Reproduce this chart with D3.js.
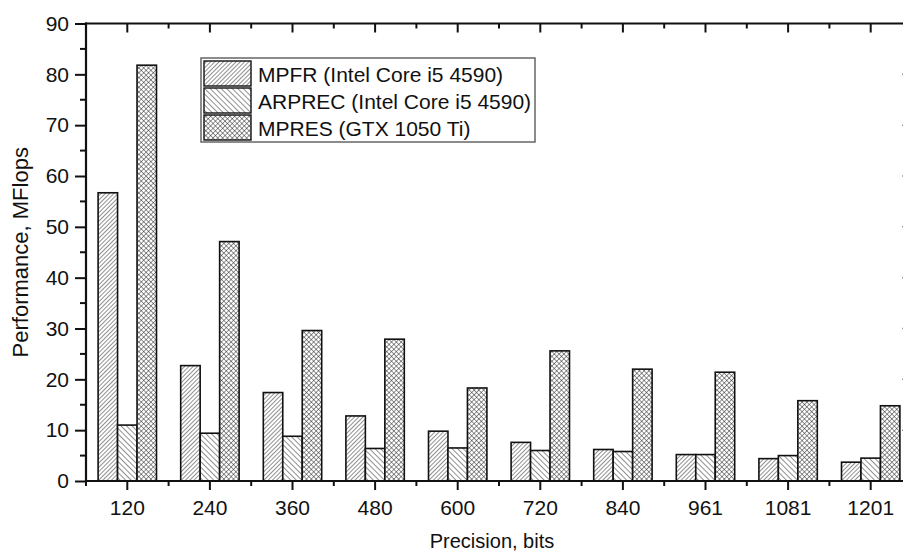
<!DOCTYPE html>
<html>
<head>
<meta charset="utf-8">
<script src="https://cdn.jsdelivr.net/npm/d3@7"></script>
<style>
  body { margin: 0; background: #fff; }
  text { font-family: "Liberation Sans", Arial, sans-serif; fill: #111; }
</style>
</head>
<body>
<svg id="misvg"></svg>
<script>
const categories = ["120", "240", "360", "480", "600", "720", "840", "961", "1081", "1201"];
const series = ["MPFR (Intel Core i5 4590)", "ARPREC (Intel Core i5 4590)", "MPRES (GTX 1050 Ti)"];
const mpfr   = [56.7, 22.7, 17.4, 12.8, 9.8, 7.6, 6.2, 5.2, 4.4, 3.7];
const arprec = [11.0, 9.4, 8.8, 6.4, 6.5, 6.0, 5.8, 5.2, 5.0, 4.5];
const mpres  = [81.8, 47.1, 29.6, 27.9, 18.3, 25.6, 22.0, 21.4, 15.8, 14.8];
const yTicks = [0, 10, 20, 30, 40, 50, 60, 70, 80, 90];

const W = 903, H = 552;
const mLeft = 86, mTop = 23.5, mBottom = 481, mRight = 912;

const svg = d3.select("#misvg").attr("width", W).attr("height", H);

// hatch patterns
const defs = svg.append("defs");
function hatch(id, angle, step, cross, sw) {
  const p = defs.append("pattern")
    .attr("id", id)
    .attr("patternUnits", "userSpaceOnUse")
    .attr("width", step).attr("height", step)
    .attr("patternTransform", "rotate(" + angle + ")");
  p.append("rect").attr("width", step).attr("height", step).attr("fill", "#fff");
  p.append("line").attr("x1", 0).attr("y1", 0).attr("x2", 0).attr("y2", step)
    .attr("stroke", "#222").attr("stroke-width", sw);
  if (cross) {
    p.append("line").attr("x1", 0).attr("y1", 0).attr("x2", step).attr("y2", 0)
      .attr("stroke", "#222").attr("stroke-width", sw);
  }
}
hatch("h0", 45, 3.0, false, 1.0);
hatch("h1", -45, 3.9, false, 1.0);
hatch("h2", 45, 3.4, true, 0.95);
const fills = ["url(#h0)", "url(#h1)", "url(#h2)"];

const x = d3.scaleBand().domain(categories).range([mLeft, mRight]).padding(0);
const groupW = x.bandwidth() * 0.707;
const x1 = d3.scaleBand().domain(series)
  .range([(x.bandwidth() - groupW) / 2, (x.bandwidth() + groupW) / 2]);
const y = d3.scaleLinear().domain([0, 90]).range([mBottom, mTop]);

const rows = categories.map((c, i) => ({ c, v: [mpfr[i], arprec[i], mpres[i]] }));

const g = svg.append("g");
g.selectAll("g.grp").data(rows).enter().append("g")
  .attr("transform", d => "translate(" + x(d.c) + ",0)")
  .selectAll("rect").data(d => d.v.map((v, k) => ({ v, k })))
  .enter().append("rect")
  .attr("x", d => x1(series[d.k]))
  .attr("width", x1.bandwidth())
  .attr("y", d => y(d.v))
  .attr("height", d => y(0) - y(d.v))
  .attr("fill", d => fills[d.k])
  .attr("stroke", "#111")
  .attr("stroke-width", 1.6);

// axes
const axisColor = "#111";
const centers = categories.map(c => x(c) + x.bandwidth() / 2);
const bounds = categories.map(c => x(c)).concat([mRight]);

// bottom axis
const bx = svg.append("g").attr("transform", "translate(0," + mBottom + ")")
  .call(d3.axisBottom(x).tickSize(9).tickSizeOuter(0).tickPadding(10));
bx.select(".domain").remove();
bx.selectAll(".tick line").attr("stroke", axisColor).attr("stroke-width", 2);
bx.selectAll(".tick text").attr("font-size", "21px");
svg.append("g").selectAll("line").data(bounds).enter().append("line")
  .attr("x1", d => d).attr("x2", d => d).attr("y1", mBottom).attr("y2", mBottom + 5)
  .attr("stroke", axisColor).attr("stroke-width", 2);

// top frame with inward ticks
svg.append("g").selectAll("line").data(centers).enter().append("line")
  .attr("x1", d => d).attr("x2", d => d).attr("y1", mTop).attr("y2", mTop + 9)
  .attr("stroke", axisColor).attr("stroke-width", 2);
svg.append("g").selectAll("line").data(bounds).enter().append("line")
  .attr("x1", d => d).attr("x2", d => d).attr("y1", mTop).attr("y2", mTop + 5)
  .attr("stroke", axisColor).attr("stroke-width", 2);

// left axis
const ly = svg.append("g").attr("transform", "translate(" + mLeft + ",0)")
  .call(d3.axisLeft(y).tickValues(yTicks).tickSize(11).tickSizeOuter(0).tickPadding(6));
ly.select(".domain").remove();
ly.selectAll(".tick line").attr("stroke", axisColor).attr("stroke-width", 2);
ly.selectAll(".tick text").attr("font-size", "21px");
const minors = d3.range(5, 90, 10);
svg.append("g").selectAll("line").data(minors).enter().append("line")
  .attr("x1", mLeft - 6).attr("x2", mLeft).attr("y1", d => y(d)).attr("y2", d => y(d))
  .attr("stroke", axisColor).attr("stroke-width", 2);

// right axis (mostly outside the view), inward ticks
svg.append("g").selectAll("line").data(yTicks).enter().append("line")
  .attr("x1", mRight - 10).attr("x2", mRight).attr("y1", d => y(d)).attr("y2", d => y(d))
  .attr("stroke", "#999").attr("stroke-width", 1.5);

// frame lines
svg.append("line").attr("x1", mLeft).attr("x2", mLeft).attr("y1", mTop - 1).attr("y2", mBottom + 1)
  .attr("stroke", axisColor).attr("stroke-width", 2.2);
svg.append("line").attr("x1", mLeft - 1).attr("x2", W).attr("y1", mBottom).attr("y2", mBottom)
  .attr("stroke", axisColor).attr("stroke-width", 2.2);
svg.append("line").attr("x1", mLeft - 1).attr("x2", W).attr("y1", mTop).attr("y2", mTop)
  .attr("stroke", axisColor).attr("stroke-width", 2.2);

// axis titles
svg.append("text")
  .attr("transform", "translate(28," + ((mTop + mBottom) / 2) + ") rotate(-90)")
  .attr("text-anchor", "middle").attr("font-size", "22px")
  .text("Performance, MFlops");
svg.append("text")
  .attr("x", 492).attr("y", 548)
  .attr("text-anchor", "middle").attr("font-size", "20px")
  .text("Precision, bits");

// legend
const lg = svg.append("g").attr("transform", "translate(201,58)");
lg.append("rect").attr("x", 0).attr("y", 0).attr("width", 334).attr("height", 84)
  .attr("fill", "#fff").attr("stroke", "#666").attr("stroke-width", 1.5);
series.forEach((s, k) => {
  lg.append("rect").attr("x", 3).attr("y", 3 + k * 27).attr("width", 47).attr("height", 25)
    .attr("fill", fills[k]).attr("stroke", "#111").attr("stroke-width", 1.4);
  lg.append("text").attr("x", 57).attr("y", 23.5 + k * 27).attr("font-size", "21px").text(s);
});
</script>
</body>
</html>
